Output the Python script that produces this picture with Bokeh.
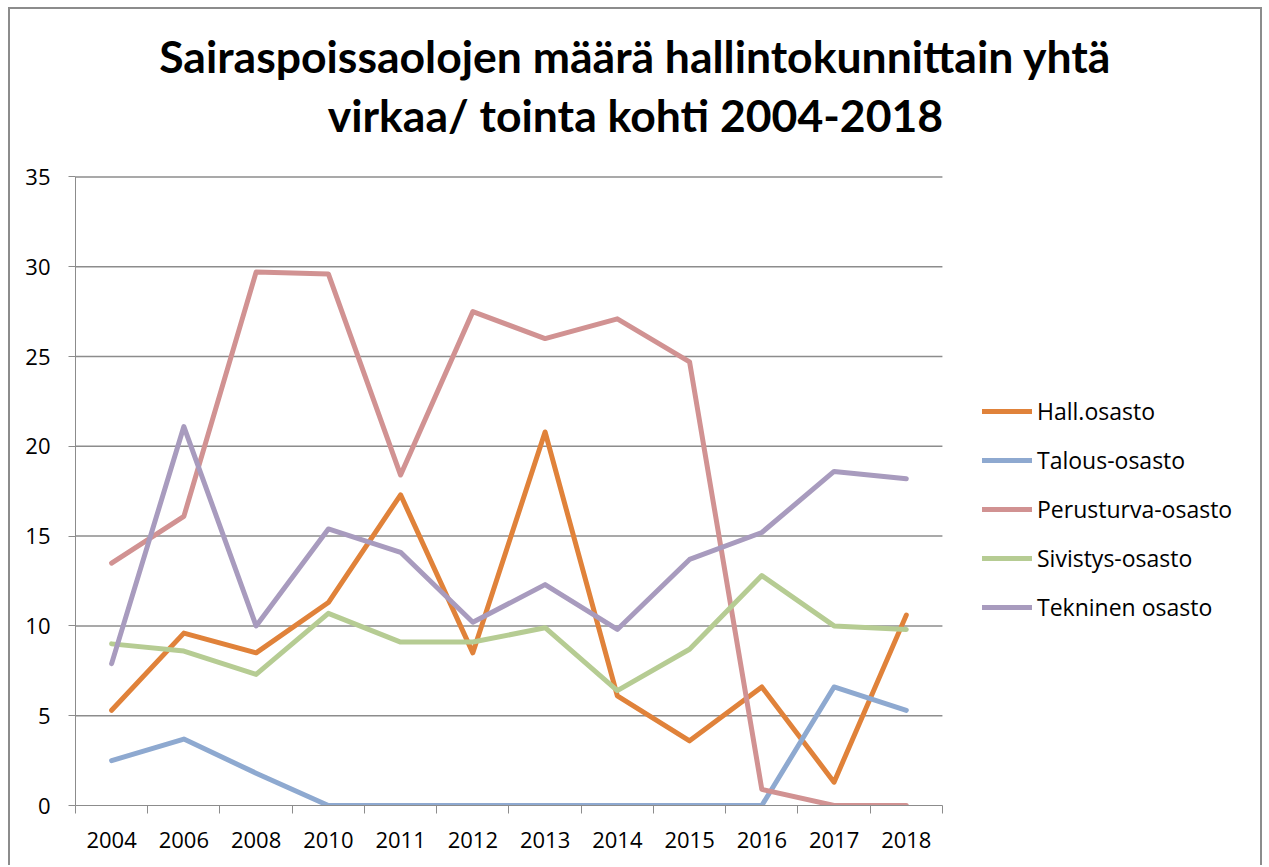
from bokeh.plotting import figure
from bokeh.models import (Range1d, LinearAxis, FixedTicker, Legend, LegendItem, Label)
from bokeh.embed import file_html
from bokeh.resources import INLINE

years = ["2004", "2006", "2008", "2010", "2011", "2012", "2013", "2014", "2015", "2016", "2017", "2018"]
hall = [5.3, 9.6, 8.5, 11.3, 17.3, 8.5, 20.8, 6.1, 3.6, 6.6, 1.3, 10.6]
talous = [2.5, 3.7, 1.8, 0, 0, 0, 0, 0, 0, 0, 6.6, 5.3]
perusturva = [13.5, 16.1, 29.7, 29.6, 18.4, 27.5, 26.0, 27.1, 24.7, 0.9, 0, 0]
sivistys = [9.0, 8.6, 7.3, 10.7, 9.1, 9.1, 9.9, 6.4, 8.7, 12.8, 10.0, 9.8]
tekninen = [7.9, 21.1, 10.0, 15.4, 14.1, 10.2, 12.3, 9.8, 13.7, 15.2, 18.6, 18.2]
series_names = ["Hall.osasto", "Talous-osasto", "Perusturva-osasto", "Sivistys-osasto", "Tekninen osasto"]
series_values = [hall, talous, perusturva, sivistys, tekninen]
colors = ["#E0823A", "#8EA9D0", "#D19292", "#B6CC93", "#A89BBE"]
title_lines = ["Sairaspoissaolojen määrä hallintokunnittain yhtä", "virkaa/ tointa kohti 2004-2018"]
y_ticks = [0, 5, 10, 15, 20, 25, 30, 35]
y_max = 35

GRID = "#8C8C8C"
FONT = "Open Sans"

# layout (pixels)
W, H = 1250, 856
LEFT, BOTTOM = 65, 62
CAT_PX = 72.0           # width of one category slot
Y_PX = 627.0 / y_max    # pixels per unit on y
n = len(years)
x_end = (W - LEFT) / CAT_PX
y_end = (H - BOTTOM) / Y_PX

p = figure(width=W, height=H, output_backend="svg", toolbar_location=None,
           x_range=Range1d(0, x_end), y_range=Range1d(0, y_end),
           x_axis_type=None, y_axis_type=None,
           min_border_left=LEFT, min_border_right=0, min_border_top=0, min_border_bottom=BOTTOM)
p.outline_line_color = None
p.background_fill_color = "white"
p.border_fill_color = "white"
p.xgrid.visible = False
p.ygrid.visible = False
p.styles = {"box-sizing": "content-box", "margin-left": "8px", "margin-top": "7px",
            "border-top": "2px solid #8C8C8C", "border-left": "2px solid #8C8C8C",
            "border-right": "2px solid #8C8C8C"}

# y axis
yaxis = LinearAxis(ticker=FixedTicker(ticks=y_ticks), bounds=(0, y_max))
yaxis.axis_line_color = GRID
yaxis.major_tick_line_color = GRID
yaxis.major_tick_out = 7
yaxis.major_tick_in = 0
yaxis.minor_tick_line_color = None
yaxis.major_label_standoff = 18
yaxis.major_label_text_font = FONT
yaxis.major_label_text_font_size = "22px"
yaxis.major_label_text_color = "black"
p.add_layout(yaxis, "left")

# x axis: labels at category centres, tick marks (minor) at category boundaries
centers = [i + 0.5 for i in range(n)]
bounds = list(range(n + 1))
xaxis = LinearAxis(ticker=FixedTicker(ticks=centers, minor_ticks=bounds), bounds=(0, n),
                   major_label_overrides={c: y for c, y in zip(centers, years)})
xaxis.axis_line_color = GRID
xaxis.major_tick_line_color = None
xaxis.minor_tick_line_color = GRID
xaxis.minor_tick_out = 8
xaxis.minor_tick_in = 0
xaxis.major_tick_out = 8
xaxis.major_tick_in = 0
xaxis.major_label_standoff = 18
xaxis.major_label_text_font = FONT
xaxis.major_label_text_font_size = "22px"
xaxis.major_label_text_color = "black"
p.add_layout(xaxis, "below")

# horizontal gridlines across the category area only
gy = [t for t in y_ticks if t > 0]
p.segment(x0=[0] * len(gy), y0=gy, x1=[n] * len(gy), y1=gy, line_color=GRID, line_width=1.5)

items = []
for name, vals, col in zip(series_names, series_values, colors):
    r = p.line(centers, vals, line_color=col, line_width=5, line_join="round", line_cap="round")
    items.append(LegendItem(label=name, renderers=[r]))

legend = Legend(items=items, location=(907, 182))
legend.border_line_color = None
legend.background_fill_alpha = 0
legend.padding = 0
legend.margin = 0
legend.glyph_width = 50
legend.glyph_height = 20
legend.label_height = 20
legend.label_standoff = 5
legend.spacing = 17
legend.label_text_font = FONT
legend.label_text_font_size = "23px"
legend.label_text_color = "black"
p.add_layout(legend, "center")

# title lines, positioned in data space above the category area
for txt, ybase in zip(title_lines, [41.78, 38.49]):
    p.add_layout(Label(x=7.75, y=ybase, text=txt,
                       text_align="center", text_baseline="alphabetic",
                       text_font="Lato", text_font_style="bold", text_font_size="44.5px",
                       text_color="black"))

open("out.html", "w").write(file_html(p, INLINE))
